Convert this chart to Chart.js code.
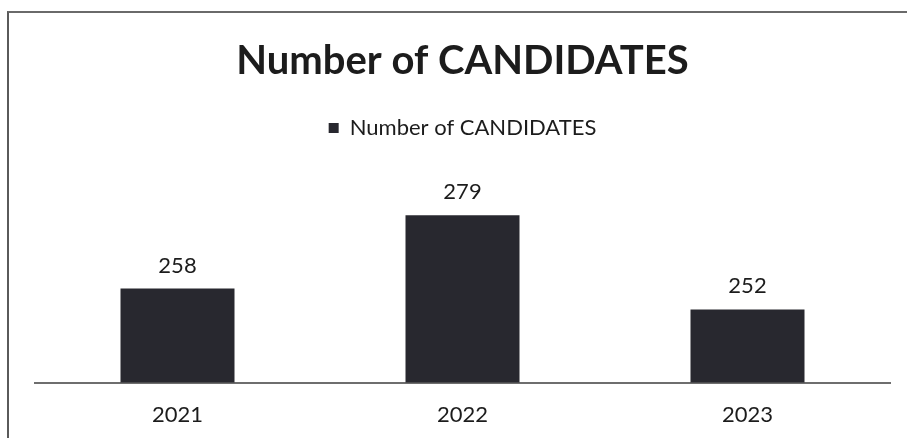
<!DOCTYPE html>
<html>
<head>
<meta charset="utf-8">
<script src="https://cdn.jsdelivr.net/npm/chart.js@4.4.0/dist/chart.umd.min.js"></script>
<style>
  html, body { margin: 0; padding: 0; background: #fff; }
  #wrap { position: relative; width: 907px; height: 438px; overflow: hidden; }
  #frame { position: absolute; left: 7px; top: 11px; width: 920px; height: 450px;
           border-left: 2px solid #5a5a5a; border-top: 2px solid #6a6a6a; }
  canvas { position: absolute; left: 0; top: 0; }
</style>
</head>
<body>
<div id="wrap">
  <div id="frame"></div>
  <canvas id="candidatos" width="907" height="438"></canvas>
</div>
<script>
let anios = ['2021', '2022', '2023'];
let candidatos = [258, 279, 252];
let ejeMin = 231;
let ejeMax = 298;

let colorBarra = '#28282f';
let colorTexto = '#1c1c1c';
let fuente = 'Lato';

// etiquetas con el valor encima de cada barra
let etiquetasValor = {
  id: 'etiquetasValor',
  afterDatasetsDraw(chart) {
    let ctx = chart.ctx;
    let meta = chart.getDatasetMeta(0);
    ctx.save();
    ctx.font = '22px ' + fuente;
    ctx.fillStyle = colorTexto;
    ctx.textAlign = 'center';
    ctx.textBaseline = 'bottom';
    meta.data.forEach(function (barra, i) {
      ctx.fillText(String(chart.data.datasets[0].data[i]), barra.x, barra.y - 12);
    });
    ctx.restore();
  }
};

let graficoCtx = document.getElementById('candidatos').getContext('2d');

let barras = new Chart(graficoCtx, {
  type: 'bar',
  data: {
    labels: anios,
    datasets: [{
      label: 'Number of CANDIDATES',
      data: candidatos,
      backgroundColor: colorBarra,
      borderWidth: 0,
      barPercentage: 0.4,
      categoryPercentage: 1
    }]
  },
  options: {
    responsive: false,
    animation: false,
    layout: { padding: { left: 35, right: 17, top: 0, bottom: -9 } },
    plugins: {
      title: {
        display: true,
        text: 'Number of CANDIDATES',
        color: colorTexto,
        font: { family: fuente, size: 40, weight: 'bold' },
        padding: { top: 37, bottom: 22 }
      },
      legend: {
        display: true,
        labels: {
          color: colorTexto,
          font: { family: fuente, size: 22 },
          boxWidth: 10,
          boxHeight: 10
        }
      },
      tooltip: { enabled: false }
    },
    scales: {
      x: {
        grid: { display: false, drawTicks: false },
        border: { display: true, color: '#6e6e6e', width: 2 },
        ticks: { color: colorTexto, font: { family: fuente, size: 22 }, padding: 19 }
      },
      y: {
        display: false,
        min: ejeMin,
        max: ejeMax
      }
    }
  },
  plugins: [etiquetasValor]
});
</script>
</body>
</html>
